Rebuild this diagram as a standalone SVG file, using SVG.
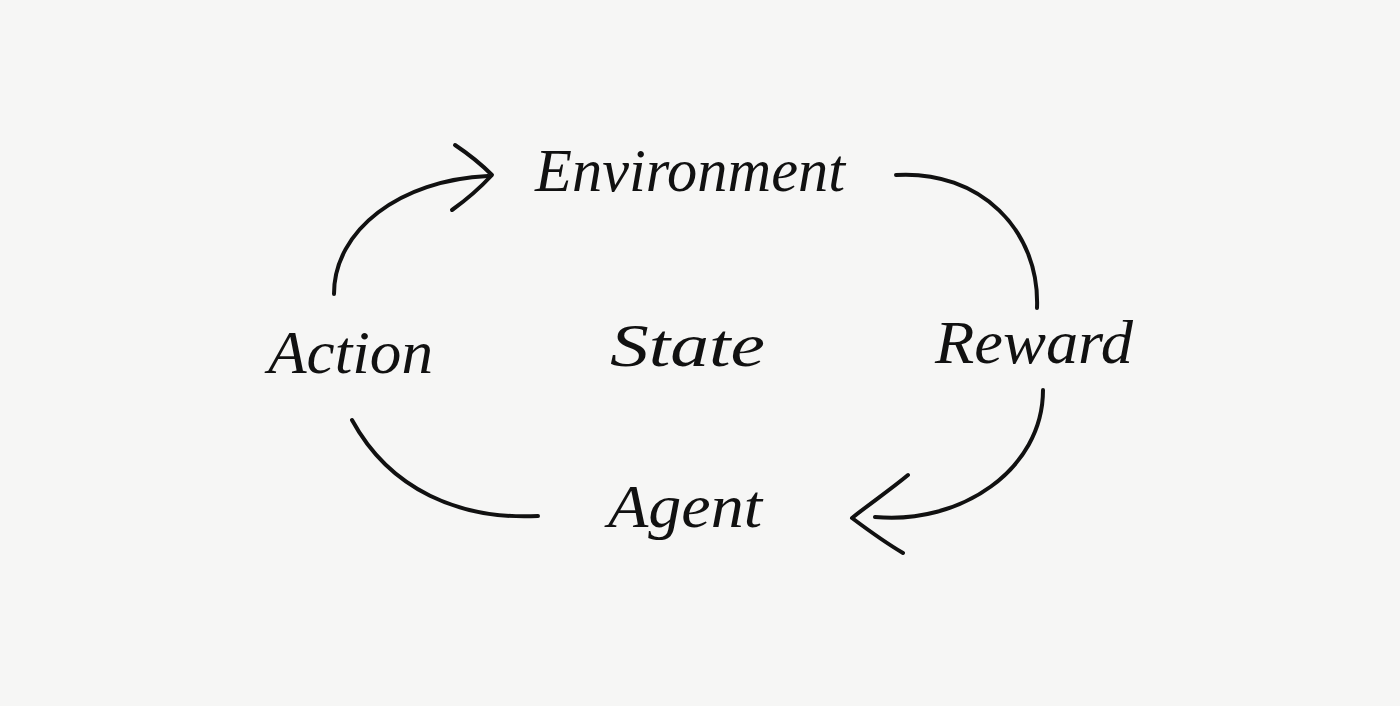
<svg xmlns="http://www.w3.org/2000/svg" width="1400" height="706" viewBox="0 0 1400 706">
<style>
.lbl{font-family:"Liberation Serif","DejaVu Serif",serif;font-style:italic;font-size:62px;fill:#111}
.ln{fill:none;stroke:#111;stroke-width:4;stroke-linecap:round;stroke-linejoin:round}
</style>
<rect width="1400" height="706" fill="#f6f6f5"/>
<g id="connectors">
<path class="ln" d="M334,294 C334,230 400,180 488,176"/>
<path class="ln" d="M455,145 C470,155 482,165 492,175 C480,188 466,200 452,210"/>
<path class="ln" d="M896,175 C980,170 1040,230 1037,308"/>
<path class="ln" d="M1043,390 C1043,470 960,525 875,517"/>
<path class="ln" d="M908,475 C890,490 868,505 852,518 C868,530 886,543 903,553"/>
<path class="ln" d="M352,420 C390,490 460,520 538,516"/>
</g>
<g id="environment"><text class="lbl" x="535" y="191" textLength="310" lengthAdjust="spacingAndGlyphs">Environment</text></g>
<g id="action"><text class="lbl" x="268" y="373" textLength="165" lengthAdjust="spacingAndGlyphs">Action</text></g>
<g id="state"><text class="lbl" x="610" y="366" textLength="155" lengthAdjust="spacingAndGlyphs">State</text></g>
<g id="reward"><text class="lbl" x="935" y="363" textLength="198" lengthAdjust="spacingAndGlyphs">Reward</text></g>
<g id="agent"><text class="lbl" x="608" y="527" textLength="154" lengthAdjust="spacingAndGlyphs">Agent</text></g>
</svg>
